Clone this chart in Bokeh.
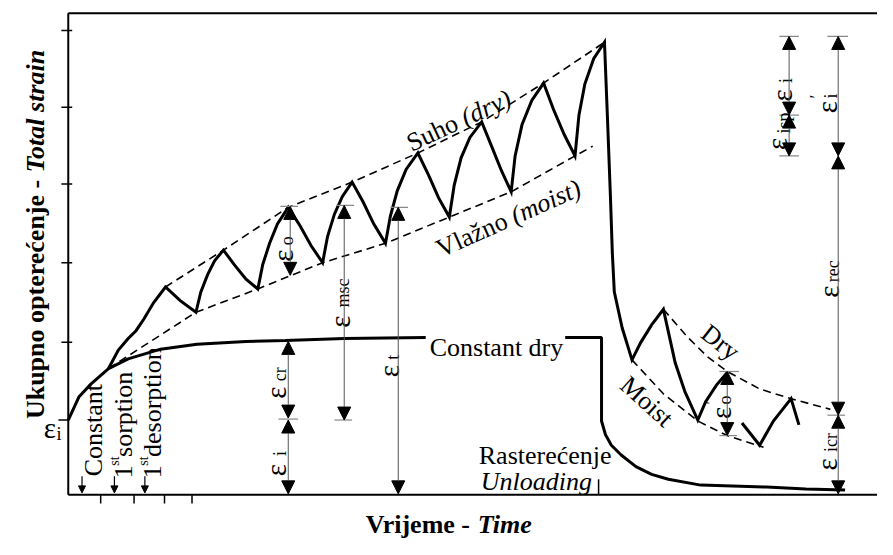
import math
from bokeh.plotting import figure
from bokeh.models import Range1d, Arrow, NormalHead, ColumnDataSource
from bokeh.core.properties import value
from bokeh.embed import file_html
from bokeh.resources import INLINE

# ---------------- data (time units, strain units; arbitrary scale) ----------------
# curve under constant dry conditions
const_dry_t = [0, 11, 23, 41, 61, 94, 131, 181, 221, 281, 364]
const_dry_e = [77, 101, 114, 130, 140, 150, 155, 158, 159, 161, 162]
# continuation after the text and the unloading (recovery) branch
unload_t = [506, 543, 543, 547, 553, 563, 578, 594, 611, 644, 711, 751, 791]
unload_e = [162, 162, 76, 62, 51, 41, 29, 21, 16, 10, 8, 6, 5]

# cyclic humidity curve (loading part + first recovery cycles)
cyc_t = [41, 51, 61, 69, 77, 87, 99, 114, 130, 135, 142, 149, 158, 169, 181, 193,
         198, 205, 213, 224, 236, 247, 259, 264, 271, 279, 289, 300, 311, 323,
         328, 335, 344, 356, 367, 377, 388, 393, 400, 409, 421, 431, 441, 451,
         455, 462, 472, 484, 494, 505, 516, 520, 526, 535, 546,
         549, 552, 554, 556, 564, 574, 583, 594, 606, 618, 628, 641, 649, 660, 671]
cyc_e = [130, 149, 161, 169, 181, 198, 214, 200, 188, 209, 227, 241, 252, 237, 222, 212,
         237, 259, 279, 296, 277, 257, 239, 266, 289, 307, 322, 302, 279, 259,
         287, 313, 335, 352, 329, 306, 286, 319, 347, 368, 384, 359, 334, 312,
         349, 381, 406, 424, 397, 371, 349, 391, 423, 449, 466,
         389, 309, 249, 209, 172, 139, 157, 175, 191, 136, 106, 77, 96, 113, 126]
cyc2_t = [686, 704, 718, 736, 744]
cyc2_e = [74, 51, 76, 99, 72]

# envelopes
dry_env_t = [99, 158, 224, 289, 356, 421, 484, 546]
dry_env_e = [214, 252, 296, 322, 352, 384, 424, 466]
moist_env_t = [41, 130, 193, 259, 323, 388, 451, 516, 534]
moist_env_e = [130, 188, 212, 239, 259, 286, 312, 349, 359]
dry_rec_t = [606, 631, 651, 671, 704, 736, 776]
dry_rec_e = [191, 162, 142, 127, 109, 99, 88]
moist_rec_t = [574, 606, 641, 671, 708]
moist_rec_e = [139, 104, 76, 61, 49]

# dimension arrows (strain components)
dim_names = ["eps_o", "eps_msc", "eps_t", "eps_cr", "eps_i", "eps_i_r", "eps_isp",
             "eps_i_prime", "eps_rec", "eps_icr", "eps_o_prime"]
dim_t = [226, 281, 336, 224, 224, 734, 734, 784, 784, 784, 671]
dim_e0 = [297, 298, 296, 158, 77, 472, 391, 472, 349, 82, 127]
dim_e1 = [226, 77, 1, 79, 1, 391, 349, 349, 82, 1, 61]
# short extension marks at dimension ends
ext_t0 = [216, 273, 271, 328, 214, 724, 724, 724, 773, 773, 663, 663]
ext_t1 = [234, 291, 289, 346, 234, 744, 744, 744, 794, 791, 683, 681]
ext_e = [297, 298, 77, 296, 78, 472, 391, 349, 472, 82, 127, 61]

# axis ticks
y_ticks = [478, 399, 320, 239, 157]
eps_i_level = 77
x_ticks = [33, 67, 98, 126]
unload_tick = 540
event_t = [14, 47, 78]  # Constant, 1st sorption, 1st desorption

T_MAX = 824
E_MAX = 496

FONT = "Liberation Serif"
W, H = 877, 539
XR = (-69, 824)
YR = (-46, 509)
SX = (XR[1] - XR[0]) / W   # data units per pixel
SY = (YR[1] - YR[0]) / H

p = figure(width=W, height=H, x_range=Range1d(*XR), y_range=Range1d(*YR),
           output_backend="svg", toolbar_location=None, x_axis_type=None, y_axis_type=None,
           min_border=0, min_border_left=0, min_border_right=0, min_border_top=0,
           min_border_bottom=0)
p.outline_line_color = None
p.xgrid.visible = False
p.ygrid.visible = False
p.background_fill_color = "white"

# frame / axes lines
p.line([0, 0], [0, E_MAX], line_color="black", line_width=2)
p.line([0, T_MAX], [E_MAX, E_MAX], line_color="black", line_width=2)
p.line([0, T_MAX], [0, 0], line_color="black", line_width=2)
p.segment(x0=[-7] * len(y_ticks), x1=[4] * len(y_ticks), y0=y_ticks, y1=y_ticks,
          line_color="black", line_width=1.5)
p.segment(x0=[-10], x1=[0], y0=[eps_i_level], y1=[eps_i_level], line_color="black", line_width=1.5)
p.segment(x0=x_ticks, x1=x_ticks, y0=[0] * len(x_ticks), y1=[-9] * len(x_ticks),
          line_color="black", line_width=1.5)
p.segment(x0=[unload_tick], x1=[unload_tick], y0=[0], y1=[16], line_color="black", line_width=1.5)

# curves
p.line(const_dry_t, const_dry_e, line_color="black", line_width=3)
p.line(unload_t, unload_e, line_color="black", line_width=3)
p.line(cyc_t, cyc_e, line_color="black", line_width=3, line_join="miter")
p.line(cyc2_t, cyc2_e, line_color="black", line_width=3, line_join="miter")
for tt, ee in [(dry_env_t, dry_env_e), (moist_env_t, moist_env_e),
               (dry_rec_t, dry_rec_e), (moist_rec_t, moist_rec_e)]:
    p.line(tt, ee, line_color="black", line_width=1.6, line_dash="8 5")

# dimension arrows
src = ColumnDataSource(dict(x=dim_t, y0=dim_e0, y1=dim_e1))
p.add_layout(Arrow(x_start="x", y_start="y0", x_end="x", y_end="y1", source=src,
                   start=NormalHead(size=13, fill_color="black", line_color="black", line_width=1),
                   end=NormalHead(size=13, fill_color="black", line_color="black", line_width=1),
                   line_color="#555555", line_width=1))
p.segment(x0=ext_t0, x1=ext_t1, y0=ext_e, y1=ext_e, line_color="#888888", line_width=1.2)

# event arrows on the time axis
esrc = ColumnDataSource(dict(x=event_t, y0=[19] * 3, y1=[2] * 3))
p.add_layout(Arrow(x_start="x", y_start="y0", x_end="x", y_end="y1", source=esrc,
                   end=NormalHead(size=7, fill_color="black", line_color="black", line_width=1),
                   line_color="black", line_width=1.2))


def T(x, y, s, size=26, angle=0.0, style="normal", align="left", baseline="alphabetic"):
    p.text(x=[x], y=[y], text=[s], angle=angle, text_font=value(FONT),
           text_font_size=value(f"{size}px"), text_font_style=style,
           text_align=align, text_baseline=baseline, text_color="black")


def along(x, y, px, ang):
    """point px pixels further along a text line drawn at angle ang"""
    return x + px * math.cos(ang) * SX, y + px * math.sin(ang) * SY


R = math.pi / 2


def rlab(mx, my, sub, sx, sy, prime=None):
    T(mx, my, "ε", 29, R)
    T(sx, sy, sub, 18, R)
    if prime is not None:
        T(prime[0], prime[1], "′", 18, R)


# strain labels
T(-25, 69, "ε", 29)
T(-12, 63, "i", 18)
rlab(219, 240, "o", 223, 257)
rlab(277, 172, "msc", 280, 193)
rlab(327, 121, "t", 331, 139)
rlab(212, 99, "cr", 216, 117)
rlab(212, 19, "i", 216, 40)
rlab(727, 405, "i", 731, 424)
rlab(722, 355, "isp", 729, 372)
rlab(773, 393, "i", 777, 408, prime=(762, 408))
rlab(775, 203, "rec", 779, 219)
rlab(773, 25, "icr", 777, 44)
rlab(665, 78, "o", 669, 93, prime=(655, 93))

# curve labels
a1 = math.radians(25)
T(346, 361, "Suho ", 26, a1)
T(*along(346, 361, 2.306 * 26, a1), "(dry)", 26, a1, style="italic")
a2 = math.radians(24)
T(376, 252, "Vlažno ", 26, a2)
T(*along(376, 252, 3.138 * 26, a2), "(moist)", 26, a2, style="italic")
T(664, 157, "Dry", 26, math.radians(-38), align="center", baseline="middle")
T(589, 96, "Moist", 26, math.radians(-42), align="center", baseline="middle")
T(368, 152, "Constant dry", 26)
T(418, 41, "Rasterećenje", 26)
T(420, 14, "Unloading", 26, style="italic")

# event labels
T(26, 19, "Constant", 26, R)
T(56, 17, "1", 26, R)
T(47, 30, "st", 14, R)
T(56, 39, "sorption", 26, R)
T(86, 17, "1", 26, R)
T(77, 30, "st", 14, R)
T(86, 39, "desorption", 26, R)

# axis titles
T(-33, 78, "Ukupno opterećenje - ", 26, R, style="bold")
T(-33, 332, "Total strain", 26, R, style="bold italic")
T(303, -31, "Vrijeme - ", 26, style="bold")
T(417, -31, "Time", 26, style="bold italic")

open("out.html", "w").write(file_html(p, INLINE))
